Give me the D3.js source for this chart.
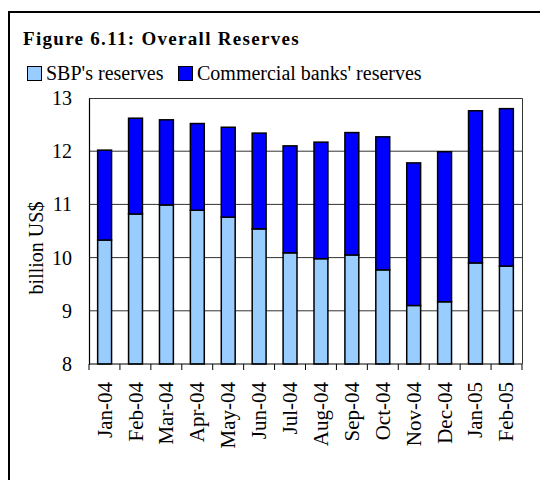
<!DOCTYPE html>
<html>
<head>
<meta charset="utf-8">
<script src="https://cdn.jsdelivr.net/npm/d3@7"></script>
<style>
  body { margin: 0; background: #fff; }
  svg { display: block; font-family: "Liberation Serif", "Times New Roman", serif; }
</style>
</head>
<body>
<svg id="chart" width="540" height="480"></svg>
<script>
// data
var months = ["Jan-04", "Feb-04", "Mar-04", "Apr-04", "May-04", "Jun-04", "Jul-04",
              "Aug-04", "Sep-04", "Oct-04", "Nov-04", "Dec-04", "Jan-05", "Feb-05"];
var sbpReserves = [10.33, 10.82, 10.99, 10.89, 10.76, 10.54, 10.09,
                   9.98, 10.05, 9.77, 9.10, 9.17, 9.90, 9.84];
var totalReserves = [12.02, 12.62, 12.59, 12.52, 12.45, 12.34, 12.10,
                     12.17, 12.35, 12.27, 11.78, 11.99, 12.76, 12.80];
var bankReserves = totalReserves.map((t, i) => +(t - sbpReserves[i]).toFixed(2));
var yTicks = [8, 9, 10, 11, 12, 13];

(function() {
    var svg = d3.select("#chart");

    // outer frame (runs off the bottom and right edge)
    svg.append("rect")
        .attr("x", 9).attr("y", 12)
        .attr("width", 560).attr("height", 500)
        .attr("fill", "none")
        .attr("stroke", "#000")
        .attr("stroke-width", 2);

    var pLeft = 89, pRight = 522, pTop = 98, pBottom = 364;

    var x = d3.scaleBand().domain(months).range([pLeft, pRight]).paddingInner(0.55).paddingOuter(0.28);
    var xb = d3.scaleBand().domain(months).range([pLeft, pRight]);
    var y = d3.scaleLinear().domain([8, 13]).range([pBottom, pTop]);

    // gridlines
    svg.append("g")
        .selectAll("line")
        .data(yTicks.filter(d => d > 8 && d < 13))
        .enter().append("line")
            .attr("x1", pLeft).attr("x2", pRight)
            .attr("y1", d => y(d)).attr("y2", d => y(d))
            .attr("stroke", "#333")
            .attr("stroke-width", 1);

    // plot border top/right
    svg.append("path")
        .attr("d", "M" + pLeft + "," + (pTop + 0.5) + "H" + (pRight + 0.5) + "V" + pBottom)
        .attr("fill", "none")
        .attr("stroke", "#333")
        .attr("stroke-width", 1);

    // stacked bars
    var stack = d3.stack().keys(["sbp", "bank"])(months.map((m, i) => ({
        month: m, sbp: sbpReserves[i], bank: bankReserves[i]
    })));
    var colors = { sbp: "#99CCFF", bank: "#0000FF" };

    svg.append("g")
        .selectAll("g")
        .data(stack)
        .enter().append("g")
            .attr("fill", d => colors[d.key])
        .selectAll("rect")
        .data(d => d)
        .enter().append("rect")
            .attr("x", d => x(d.data.month))
            .attr("width", x.bandwidth())
            .attr("y", d => y(d[1]))
            .attr("height", d => y(d[0] < 8 ? 8 : d[0]) - y(d[1]))
            .attr("stroke", "#000")
            .attr("stroke-width", 1.5);

    // y axis
    var yAxis = svg.append("g")
        .attr("transform", "translate(" + pLeft + ",0)")
        .call(d3.axisLeft(y).tickValues(yTicks).tickSize(0).tickPadding(17).tickFormat(d3.format("d")));
    yAxis.select(".domain").attr("stroke", "#000").attr("stroke-width", 1.2);
    yAxis.selectAll("text")
        .attr("font-size", 20)
        .attr("font-family", "Liberation Serif")
        .attr("fill", "#000");

    // x axis: ticks at band boundaries
    var xAxis = svg.append("g")
        .attr("transform", "translate(0," + pBottom + ")");
    xAxis.append("line")
        .attr("x1", pLeft).attr("x2", pRight)
        .attr("stroke", "#000").attr("stroke-width", 1.2);
    xAxis.selectAll(".tick")
        .data(months.concat(["end"]))
        .enter().append("line")
            .attr("x1", (d, i) => i < months.length ? xb(d) : pRight)
            .attr("x2", (d, i) => i < months.length ? xb(d) : pRight)
            .attr("y1", 0).attr("y2", 6)
            .attr("stroke", "#000");
    xAxis.selectAll(".lbl")
        .data(months)
        .enter().append("text")
            .attr("transform", d => "translate(" + (x(d) + x.bandwidth() / 2 + 7) + ",18) rotate(-90)")
            .attr("text-anchor", "end")
            .attr("font-size", 21)
            .text(d => d);

    // y axis title
    svg.append("text")
        .attr("transform", "translate(43,248) rotate(-90)")
        .attr("text-anchor", "middle")
        .attr("font-size", 20)
        .text("billion US$");

    // title
    svg.append("text")
        .attr("x", 23).attr("y", 45)
        .attr("font-size", 19)
        .attr("font-weight", "bold")
        .attr("letter-spacing", 1.3)
        .text("Figure 6.11: Overall Reserves");

    // legend
    var legend = [
        { label: "SBP's reserves", color: colors.sbp, x: 27 },
        { label: "Commercial banks' reserves", color: colors.bank, x: 178 }
    ];
    var lg = svg.append("g").selectAll("g")
        .data(legend)
        .enter().append("g")
            .attr("transform", d => "translate(" + d.x + ",0)");
    lg.append("rect")
        .attr("x", 0.5).attr("y", 66.5)
        .attr("width", 14).attr("height", 14)
        .attr("fill", d => d.color)
        .attr("stroke", "#000");
    lg.append("text")
        .attr("x", 19).attr("y", 80)
        .attr("font-size", 20)
        .text(d => d.label);
})();
</script>
</body>
</html>
